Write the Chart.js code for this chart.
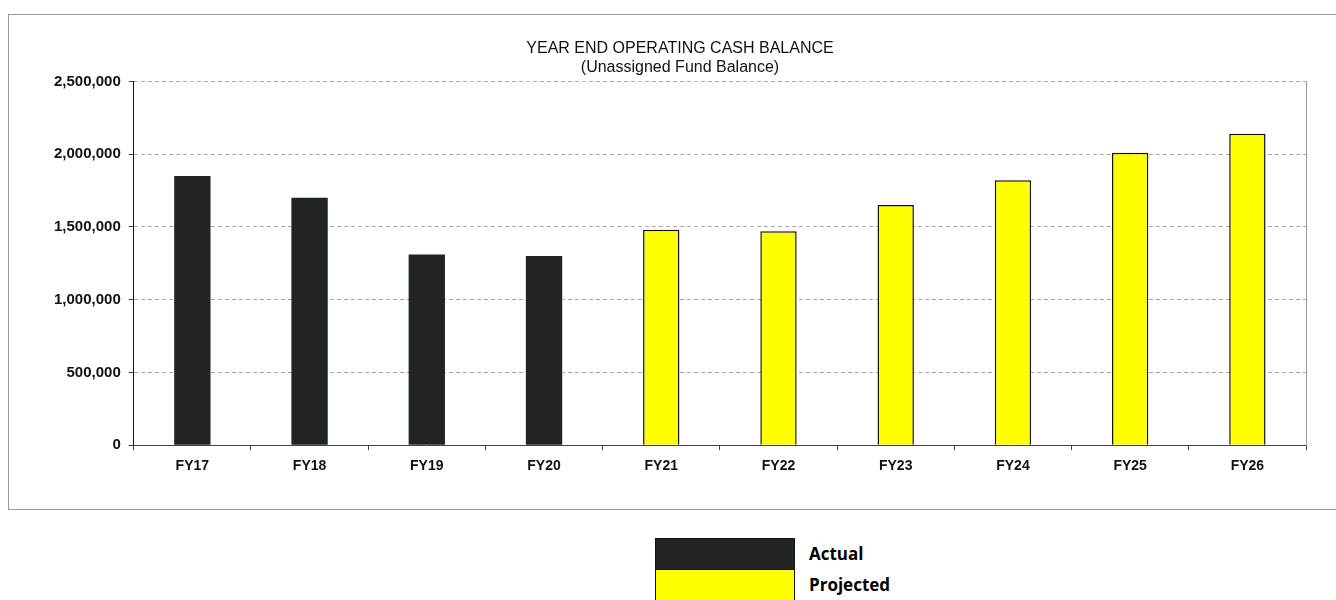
<!DOCTYPE html>
<html>
<head>
<meta charset="utf-8">
<script src="https://cdn.jsdelivr.net/npm/chart.js@4"></script>
<style>
  body { margin: 0; background: #fff; width: 1336px; height: 600px; position: relative; overflow: hidden; }
  #frame { position: absolute; left: 8px; top: 14px; width: 1340px; height: 494px; border: 1px solid #999; }
  #legend { position: absolute; left: 655px; top: 538px; font-family: "Open Sans", "Liberation Sans", sans-serif; font-weight: bold; font-size: 17px; }
  .row { display: flex; align-items: center; height: 31px; }
  .box { width: 138px; height: 30px; border: 1px solid #111; margin-right: 14px; }
</style>
</head>
<body>
<div id="frame"><canvas id="cashChart" width="1340" height="494"></canvas></div>
<div id="legend">
  <div class="row"><div class="box" style="background:#202422"></div><span>Actual</span></div>
  <div class="row"><div class="box" style="background:#ffff00"></div><span>Projected</span></div>
</div>
<script>
const categories = ["FY17", "FY18", "FY19", "FY20", "FY21", "FY22", "FY23", "FY24", "FY25", "FY26"];
const actual = [1850000, 1700000, 1310000, 1300000, null, null, null, null, null, null];
const projected = [null, null, null, null, 1480000, 1470000, 1650000, 1820000, 2010000, 2140000];
const yTicks = [0, 500000, 1000000, 1500000, 2000000, 2500000];

const ctx = document.getElementById("cashChart").getContext("2d");

new Chart(ctx, {
    type: "bar",
    data: {
        labels: categories,
        datasets: [{
            label: "Actual",
            data: actual,
            backgroundColor: "#202422",
            borderColor: "#202422",
            borderWidth: 0
        }, {
            label: "Projected",
            data: projected,
            backgroundColor: "#ffff00",
            borderColor: "#111",
            borderWidth: 1.5
        }]
    },
    options: {
        responsive: false,
        animation: false,
        layout: { padding: { left: 37, right: 35, top: 10, bottom: 26 } },
        datasets: { bar: { barPercentage: 0.31, categoryPercentage: 1 } },
        plugins: {
            legend: { display: false },
            tooltip: { enabled: false },
            title: {
                display: true,
                text: ["YEAR END OPERATING CASH BALANCE", "(Unassigned Fund Balance)"],
                color: "#111",
                font: { family: "Liberation Sans", weight: "normal", size: 16, lineHeight: 1.2 },
                padding: { top: 14, bottom: 4 }
            }
        },
        scales: {
            x: {
                stacked: true,
                grid: { display: true, drawOnChartArea: false, offset: true, color: "#444", tickLength: 5 },
                border: { color: "#444" },
                ticks: { color: "#111", padding: 8, font: { family: "Liberation Sans", weight: "bold", size: 14 } }
            },
            y: {
                stacked: true,
                min: 0,
                max: 2500000,
                afterBuildTicks: axis => { axis.ticks = yTicks.map(v => ({ value: v })); },
                grid: { color: "#aaa", tickLength: 5, tickColor: "#444" },
                border: { color: "#111", dash: [4, 3] },
                ticks: {
                    color: "#111",
                    padding: 8,
                    font: { family: "Liberation Sans", weight: "bold", size: 15 },
                    callback: v => v.toLocaleString("en-US")
                }
            },
            y2: {
                position: "right",
                min: 0,
                max: 2500000,
                grid: { display: false },
                border: { color: "#999" },
                ticks: { display: false }
            }
        }
    }
});
</script>
</body>
</html>
